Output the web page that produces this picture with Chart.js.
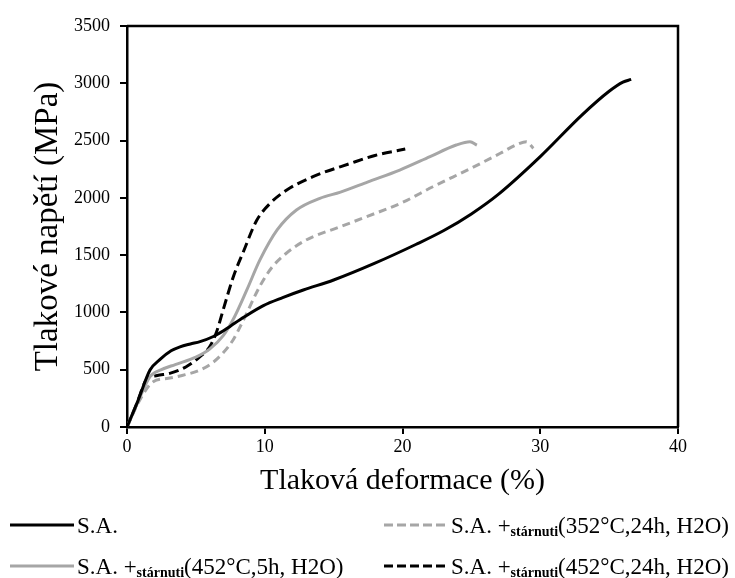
<!DOCTYPE html>
<html>
<head>
<meta charset="utf-8">
<script src="https://cdn.jsdelivr.net/npm/chart.js@4/dist/chart.umd.min.js"></script>
<style>
  html, body { margin: 0; padding: 0; background: #ffffff; }
  #wrap { width: 735px; height: 578px; }
</style>
</head>
<body>
<div id="wrap"><canvas id="chart" width="735" height="578"></canvas></div>
<script>
// Axis ticks
const strainTicks = [0, 10, 20, 30, 40];
const stressTicks = [0, 500, 1000, 1500, 2000, 2500, 3000, 3500];

// S.A. (as built)
const strainSA = [0, 0.8, 1.67, 2.4, 3.2, 3.85, 4.6, 5.3, 6.27, 7.0, 7.5, 8.5, 9.9, 11.3, 12.8, 15.0, 18.0, 21.0, 23.0, 25.0, 27.0, 30.0, 33.0, 35.0, 36.0, 36.6];
const stressSA = [0, 230, 497, 590, 665, 700, 725, 745, 790, 840, 880, 960, 1060, 1130, 1196, 1283, 1430, 1595, 1715, 1860, 2035, 2360, 2720, 2930, 3010, 3034];

// S.A. + aged 352 °C, 24 h, H2O
const strain352 = [0, 0.9, 1.9, 3.0, 4.0, 5.3, 6.2, 7.0, 7.7, 8.4, 9.65, 10.5, 11.5, 13.0, 15.5, 17.4, 20.0, 22.2, 25.0, 27.1, 28.4, 29.0, 29.5];
const stress352 = [0, 230, 395, 425, 450, 497, 560, 650, 760, 920, 1230, 1390, 1510, 1632, 1749, 1836, 1960, 2097, 2260, 2389, 2470, 2490, 2432];

// S.A. + aged 452 °C, 5 h, H2O
const strain452s = [0, 0.8, 1.67, 2.5, 3.5, 5.0, 6.0, 7.0, 7.8, 8.7, 9.65, 10.9, 12.3, 14.0, 15.5, 17.5, 19.8, 22.0, 23.9, 24.9, 25.4];
const stress452s = [0, 220, 439, 500, 545, 610, 680, 800, 960, 1196, 1458, 1720, 1894, 1996, 2050, 2140, 2243, 2360, 2461, 2490, 2461];

// S.A. + aged 452 °C, 24 h, H2O
const strain452l = [0, 0.7, 1.4, 2.2, 3.1, 4.3, 5.3, 6.0, 6.5, 7.0, 7.72, 8.45, 9.4, 10.4, 11.6, 13.5, 16.2, 18.0, 20.2];
const stress452l = [0, 200, 410, 450, 468, 526, 614, 700, 830, 1030, 1312, 1530, 1800, 1953, 2069, 2185, 2300, 2370, 2426];

// Legend text: main part, small bold "stárnuti" part, tail
const legendMain = ['S.A.', 'S.A. +', 'S.A. +', 'S.A. +'];
const legendSub = ['', 'stárnuti', 'stárnuti', 'stárnuti'];
const legendTail = ['', '(352°C,24h, H2O)', '(452°C,5h, H2O)', '(452°C,24h, H2O)'];

const BLACK = '#000000';
const GREY = '#a6a6a6';
const SERIF = '"Liberation Serif", "Times New Roman", serif';

function toPoints(xs, ys) {
  return xs.map((x, i) => ({ x: x, y: ys[i] }));
}

const series = [
  { xs: strainSA,   ys: stressSA,   color: BLACK, dash: [],      legendDash: [] },
  { xs: strain352,  ys: stress352,  color: GREY,  dash: [8, 5],  legendDash: [9, 4] },
  { xs: strain452s, ys: stress452s, color: GREY,  dash: [],      legendDash: [] },
  { xs: strain452l, ys: stress452l, color: BLACK, dash: [10, 5], legendDash: [9, 4] }
];

const datasets = series.map((s, i) => ({
  label: legendMain[i] + legendSub[i] + legendTail[i],
  data: toPoints(s.xs, s.ys),
  borderColor: s.color,
  backgroundColor: s.color,
  borderWidth: 3,
  borderDash: s.dash,
  pointRadius: 0,
  showLine: true,
  fill: false,
  cubicInterpolationMode: 'monotone'
}));

// Closes the plot frame on the top and right sides
const framePlugin = {
  id: 'frame',
  afterDatasetsDraw(chart) {
    const { ctx, chartArea: a } = chart;
    ctx.save();
    ctx.strokeStyle = BLACK;
    ctx.lineWidth = 2.5;
    ctx.beginPath();
    ctx.moveTo(a.left, a.top);
    ctx.lineTo(a.right, a.top);
    ctx.lineTo(a.right, a.bottom);
    ctx.stroke();
    ctx.restore();
  }
};

// Two-column legend under the x-axis title
const legendPlugin = {
  id: 'twoColLegend',
  afterDraw(chart) {
    const ctx = chart.ctx;
    const cols = [10, 384];
    const rows = [525, 566];
    const place = [[0, 0], [1, 0], [0, 1], [1, 1]];
    const lineLen = 64;
    ctx.save();
    series.forEach((s, i) => {
      const x0 = cols[place[i][0]];
      const y0 = rows[place[i][1]];
      ctx.strokeStyle = s.color;
      ctx.lineWidth = 3;
      ctx.setLineDash(s.legendDash);
      ctx.beginPath();
      ctx.moveTo(x0, y0);
      ctx.lineTo(x0 + lineLen, y0);
      ctx.stroke();
      ctx.setLineDash([]);

      ctx.fillStyle = BLACK;
      ctx.textBaseline = 'alphabetic';
      ctx.textAlign = 'left';
      let tx = x0 + lineLen + 3;
      const base = y0 + 8;
      ctx.font = '23px ' + SERIF;
      ctx.fillText(legendMain[i], tx, base);
      tx += ctx.measureText(legendMain[i]).width;
      if (legendSub[i]) {
        ctx.font = 'bold 14px ' + SERIF;
        ctx.fillText(legendSub[i], tx, base + 3);
        tx += ctx.measureText(legendSub[i]).width;
        ctx.font = '23px ' + SERIF;
        ctx.fillText(legendTail[i], tx, base);
      }
    });
    ctx.restore();
  }
};

new Chart(document.getElementById('chart'), {
  type: 'scatter',
  data: { datasets: datasets },
  plugins: [framePlugin, legendPlugin],
  options: {
    responsive: false,
    animation: false,
    layout: { padding: { left: 0, right: 57, top: 26, bottom: 0 } },
    plugins: {
      legend: { display: false },
      tooltip: { enabled: false }
    },
    scales: {
      x: {
        type: 'linear',
        min: strainTicks[0],
        max: strainTicks[strainTicks.length - 1],
        afterBuildTicks(scale) { scale.ticks = strainTicks.map(v => ({ value: v })); },
        afterFit(scale) { scale.height = 151; },
        ticks: { color: BLACK, font: { family: SERIF, size: 18 }, padding: 2, callback: v => String(v) },
        grid: { display: true, drawOnChartArea: false, drawTicks: true, tickLength: 7, color: BLACK, lineWidth: 2 },
        border: { display: true, color: BLACK, width: 2.5 },
        title: {
          display: true,
          text: 'Tlaková deformace (%)',
          color: BLACK,
          font: { family: SERIF, size: 30 },
          padding: { top: 0, bottom: 79 }
        }
      },
      y: {
        type: 'linear',
        min: stressTicks[0],
        max: stressTicks[stressTicks.length - 1],
        afterBuildTicks(scale) { scale.ticks = stressTicks.map(v => ({ value: v })); },
        afterFit(scale) { scale.width = 127; },
        ticks: { color: BLACK, font: { family: SERIF, size: 18 }, padding: 10, callback: v => String(v) },
        grid: { display: true, drawOnChartArea: false, drawTicks: true, tickLength: 7, color: BLACK, lineWidth: 2 },
        border: { display: true, color: BLACK, width: 2.5 },
        title: {
          display: true,
          text: 'Tlakové napětí (MPa)',
          color: BLACK,
          font: { family: SERIF, size: 33 },
          padding: { top: 29, bottom: 0 }
        }
      }
    }
  }
});
</script>
</body>
</html>
